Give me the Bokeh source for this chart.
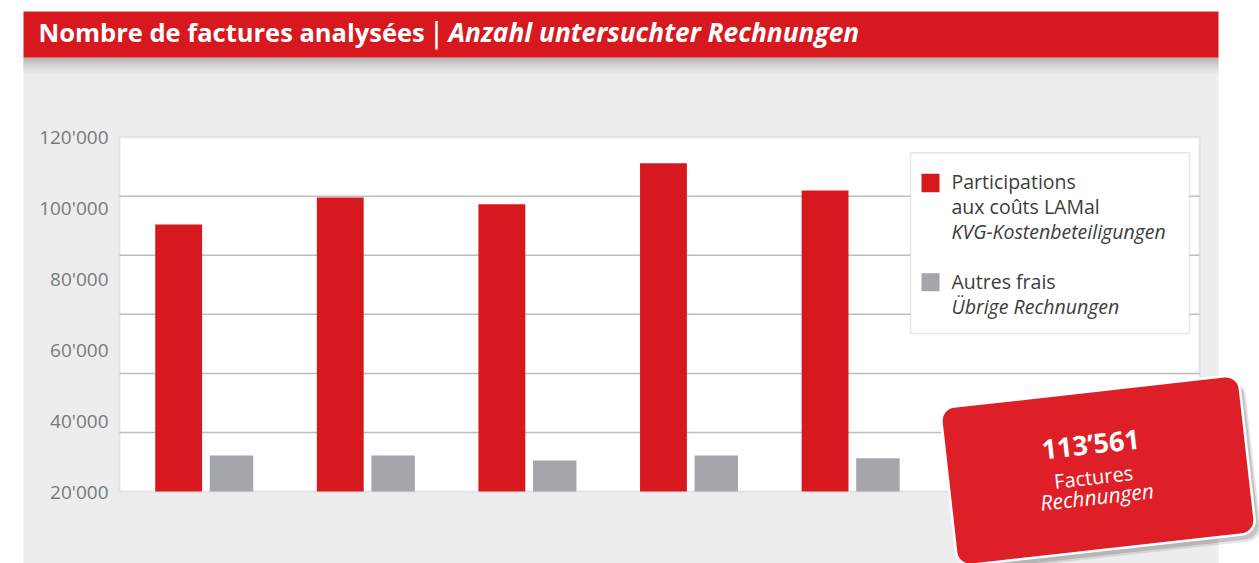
from bokeh.plotting import figure
from bokeh.models import (Range1d, FixedTicker, BoxAnnotation, Label, ColumnDataSource,
                          LinearAxis)
from bokeh.transform import dodge
from bokeh.embed import file_html
from bokeh.resources import INLINE

# ---------------- data ----------------
periods = [0, 1, 2, 3, 4]          # five periods (no period labels shown in the chart)
lamal = [95350, 102970, 101080, 112650, 104950]   # Participations aux coûts LAMal
autres = [30160, 30160, 28750, 30160, 29400]      # Autres frais
y_ticks = [20000, 40000, 60000, 80000, 100000, 120000]
y_tick_labels = ["20'000", "40'000", "60'000", "80'000", "100'000", "120'000"]
title_fr = "Nombre de factures analysées"
title_de = "Anzahl untersuchter Rechnungen"
legend_lamal = ["Participations", "aux coûts LAMal", "KVG-Kostenbeteiligungen"]
legend_autres = ["Autres frais", "Übrige Rechnungen"]
total_value = "113’561"
total_fr = "Factures"
total_de = "Rechnungen"

RED = "#d7181f"
GREY = "#a5a6a9"
BADGE = "#df1f27"
PANEL = "#ededed"
LINE = "#bdbdbd"

# ---------------- layout geometry (page pixels) ----------------
W, H = 1259, 563
PL, PR, PT, PB = 119, 1199, 136.7, 491       # plot area
GROUP0, PITCH = 203.7, 161.6                  # first group centre, group pitch
Y0, Y1 = y_ticks[0], y_ticks[-1]
k = (Y1 - Y0) / (PB - PT)

x_range = Range1d(-GROUP0 / PITCH, (W - GROUP0) / PITCH)
y_range = Range1d(Y0 - (H - PB) * k, Y1 + PT * k)

def dx(px):
    return x_range.start + px / PITCH

p = figure(width=W, height=H, output_backend="svg", toolbar_location=None,
           x_range=x_range, y_range=y_range,
           x_axis_location=None, y_axis_location=None,
           min_border=0, outline_line_color=None,
           background_fill_color="white", border_fill_color="white")
for g in p.grid:
    g.visible = False

def sx(px):
    return px
def sy(py):
    return H - py

def box(l, r, t, b, color, level="image", line_color=None, line_width=1, alpha=1.0):
    bx = BoxAnnotation(left=sx(l), right=sx(r), top=sy(t), bottom=sy(b),
                       left_units="screen", right_units="screen",
                       top_units="screen", bottom_units="screen",
                       fill_color=color, fill_alpha=alpha, line_color=line_color,
                       line_width=line_width, level=level, editable=False)
    p.add_layout(bx)

def label(x, y, text, size, color="white", style="normal", align="left",
          baseline="middle", angle=0, level="annotation", font="Open Sans"):
    lb = Label(x=sx(x), y=sy(y), x_units="screen", y_units="screen", text=text,
               text_font=font, text_font_size=size, text_font_style=style,
               text_color=color, text_align=align, text_baseline=baseline,
               angle=angle, angle_units="deg", level=level)
    p.add_layout(lb)

# grey panel, plot area, title bar, shadow
box(23, 1218, 57, H + 10, PANEL)
n = 18
c0, c1 = (0x9c, 0x9c, 0x9c), (0xed, 0xed, 0xed)
for i in range(n):
    f = (i / (n - 1)) ** 0.7
    c = tuple(int(c0[j] + (c1[j] - c0[j]) * f) for j in range(3))
    box(23, 1218, 57 + i, 58 + i, "#%02x%02x%02x" % c)
box(23, 1218, 11, 57, RED)
box(PL, PR, PT, PB, "white", line_color=LINE, line_width=2)

label(38, 31.7, title_fr, "25.5px", style="bold")
label(436, 33, "|", "28px", align="center", font="DejaVu Sans")
label(448, 31.7, title_de, "26.3px", style="bold italic")

# horizontal grid lines across the plot area only
grid_vals = [Y0 + i * (Y1 - Y0) / 6 for i in range(1, 6)]
p.segment(x0=dx(PL), x1=dx(PR), y0=grid_vals, y1=grid_vals, line_color=LINE,
          line_width=1.5, level="underlay")

# y axis fixed on the left edge of the plot area
ax = LinearAxis(fixed_location=dx(PL), bounds=(Y0, Y1), ticker=FixedTicker(ticks=y_ticks),
                major_label_overrides={t: l for t, l in zip(y_ticks, y_tick_labels)},
                axis_line_color=None, major_tick_line_color=None, minor_tick_line_color=None,
                major_tick_out=0, major_tick_in=0, major_label_standoff=11,
                major_label_text_font="Open Sans", major_label_text_font_size="19px",
                major_label_text_color="#7a7a7a")
p.add_layout(ax, "left")

# bars
src = ColumnDataSource(dict(x=periods, lamal=lamal, autres=autres))
p.vbar(x=dodge("x", -0.158, range=p.x_range), top="lamal", bottom=Y0, width=0.29,
       fill_color=RED, line_color=None, source=src)
p.vbar(x=dodge("x", 0.169, range=p.x_range), top="autres", bottom=Y0, width=0.269,
       fill_color=GREY, line_color=None, source=src)

# legend
box(910, 1189, 152.3, 333, "white", level="annotation", line_color="#b3b3b3", line_width=1.5)
box(921, 939, 173.3, 191.7, RED, level="annotation")
box(921, 939, 272.7, 290.7, GREY, level="annotation")
TXT = "#3c3c3c"
label(951, 181, legend_lamal[0], "19.5px", color=TXT)
label(951, 206, legend_lamal[1], "19.5px", color=TXT)
label(951, 231, legend_lamal[2], "19.5px", color=TXT, style="italic")
label(951, 281, legend_autres[0], "19.5px", color=TXT)
label(951, 306, legend_autres[1], "19.5px", color=TXT, style="italic")

# badge
ANG = 6.4
for ddx, ddy, a in [(6, 7, 0.10), (4, 5, 0.14)]:
    p.add_layout(Label(x=sx(1097.5 + ddx), y=sy(470 + ddy), x_units="screen", y_units="screen",
                       text=" ", text_font_size="1px", text_align="center", text_baseline="middle",
                       padding=dict(left=150, right=150, top=79, bottom=79),
                       background_fill_color="black", background_fill_alpha=a,
                       border_radius=14, angle=ANG, angle_units="deg", level="overlay"))
p.add_layout(Label(x=sx(1097.5), y=sy(470), x_units="screen", y_units="screen",
                   text=" ", text_font_size="1px", text_align="center", text_baseline="middle",
                   padding=dict(left=150, right=150, top=79, bottom=79),
                   background_fill_color=BADGE, border_line_color="white", border_line_width=2.5,
                   border_radius=14, angle=ANG, angle_units="deg", level="overlay"))
label(1090, 443, total_value, "27px", style="bold", align="center", angle=ANG, level="overlay")
label(1093, 476.5, total_fr, "20px", align="center", angle=ANG, level="overlay")
label(1096.5, 496, total_de, "21px", style="italic", align="center", angle=ANG, level="overlay")

open("out.html", "w").write(file_html(p, INLINE))
